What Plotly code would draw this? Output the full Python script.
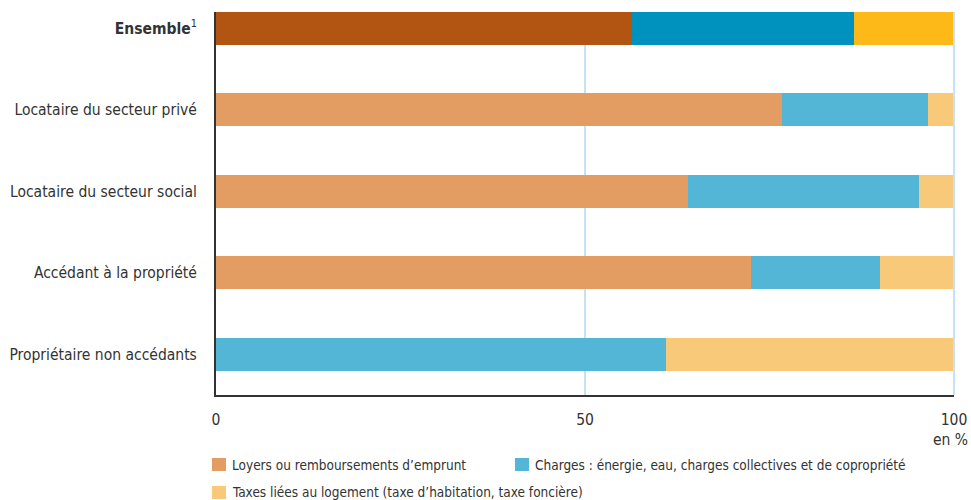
import plotly.graph_objects as go

categories = ["<b>Ensemble</b><sup>1</sup>", "Locataire du secteur privé", "Locataire du secteur social",
              "Accédant à la propriété", "Propriétaire non accédants"]
loyers = [56.4, 76.7, 64.0, 72.5, 0.0]
charges = [30.1, 19.8, 31.3, 17.5, 61.0]
taxes = [13.5, 3.5, 4.7, 10.0, 39.0]
series_names = ["Loyers ou remboursements d’emprunt",
                "Charges : énergie, eau, charges collectives et de copropriété",
                "Taxes liées au logement (taxe d’habitation, taxe foncière)"]
colors_main = ["#E39C62", "#53B6D6", "#F7C978"]
colors_ens = ["#B35512", "#0092BE", "#FCB918"]
x_ticks = [0, 50, 100]

FONT = "DejaVu Sans Condensed, Liberation Sans Narrow, sans-serif"
TXT = "#333333"
GRID = "#C6E2F4"

fig = go.Figure()
for i, vals in enumerate([loyers, charges, taxes]):
    cols = [colors_ens[i]] + [colors_main[i]] * (len(categories) - 1)
    fig.add_trace(go.Bar(y=categories, x=vals, orientation="h", name=series_names[i],
                         marker=dict(color=cols, line=dict(width=0)), width=0.405,
                         showlegend=False, hoverinfo="x+y"))

fig.update_layout(
    barmode="stack", width=971, height=500,
    margin=dict(l=216, r=17, t=12, b=105),
    plot_bgcolor="white", paper_bgcolor="white",
    font=dict(family=FONT, color=TXT, size=15.5),
    xaxis=dict(range=[0, 100], tickvals=x_ticks, showgrid=True, gridcolor=GRID, gridwidth=2,
               zeroline=False, showline=True, linecolor="#333333", linewidth=2, automargin=False,
               ticks="outside", ticklen=0, ticklabelstandoff=9, tickfont=dict(size=15.5)),
    yaxis=dict(categoryorder="array", categoryarray=categories[::-1], range=[-0.5, 4.2],
               showgrid=False, zeroline=False, showline=True, linecolor="#333333", linewidth=2,
               automargin=False, ticks="outside", ticklen=0, ticklabelstandoff=14,
               tickfont=dict(size=15.5)),
)

# gridline at the right edge of the plot (100 %)
fig.add_shape(type="line", xref="paper", yref="paper", x0=1, x1=1, y0=0, y1=1,
              line=dict(color=GRID, width=2), layer="above")

fig.add_annotation(text="en %", x=1, xref="paper", y=-0.09, yref="paper", xanchor="right",
                   xshift=16, yanchor="top", showarrow=False, font=dict(size=15.5, color=TXT))

# Legend (manual)
leg_pos = [(212, 458), (515, 458), (212, 486)]
for i, (lx, ly) in enumerate(leg_pos):
    fig.add_shape(type="rect", xref="paper", yref="paper",
                  x0=(lx - 216) / 738, x1=(lx + 14 - 216) / 738,
                  y0=(395 - ly) / 383, y1=(395 - ly - 13) / 383,
                  fillcolor=colors_main[i], line=dict(width=0))
    fig.add_annotation(text=series_names[i], xref="paper", yref="paper",
                       x=(lx + 18 - 216) / 738, y=(395 - ly - 6.5) / 383,
                       xanchor="left", yanchor="middle", showarrow=False,
                       font=dict(size=13.5, color=TXT))

fig.write_html("out.html", config={"displayModeBar": False},
               post_script="document.body.style.margin='0';document.body.style.overflow='hidden';")
